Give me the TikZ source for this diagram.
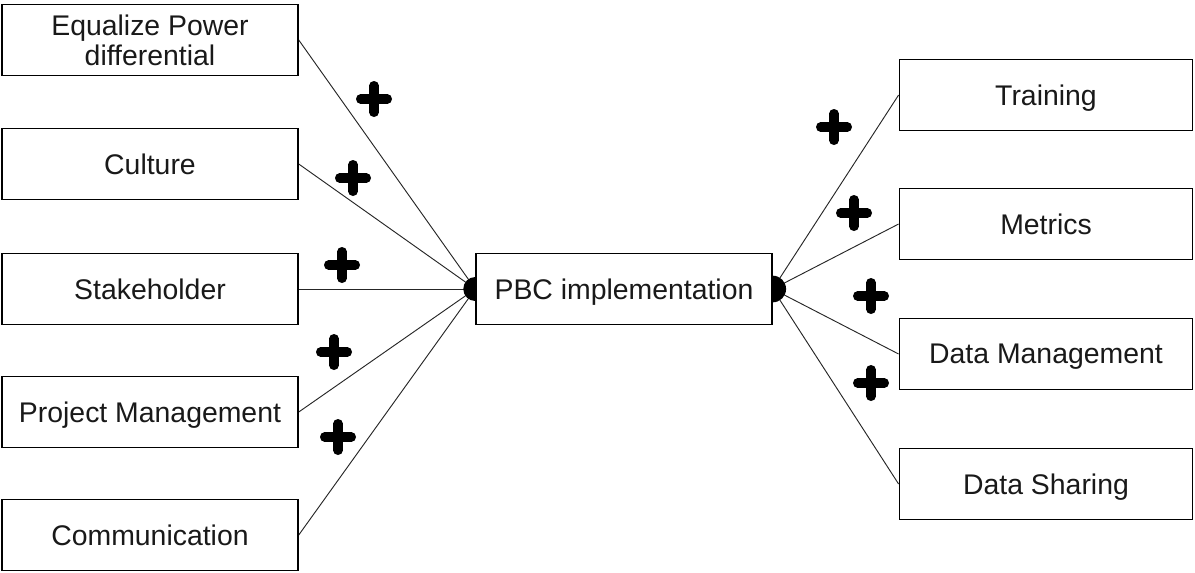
\documentclass[tikz,border=0pt]{standalone}
\usepackage{fontspec}
\setmainfont{Liberation Sans}
\usetikzlibrary{backgrounds}
\begin{document}
\begin{tikzpicture}[x=0.75pt,y=-0.75pt,
  box/.style={draw=black, line width=1.1pt, fill=white, minimum width=222pt, minimum height=53.5pt,
    inner sep=0pt, align=center, text depth=0pt, font=\fontsize{21.3}{22.5}\selectfont, text=black!90},
  conn/.style={draw=black!85, line width=0.7pt},
  plussign/.style={minimum size=28pt, inner sep=0pt,
    path picture={\draw[line width=7pt, line cap=round, black]
      ([yshift=10pt]path picture bounding box.center) -- ([yshift=-10pt]path picture bounding box.center)
      ([xshift=-10pt]path picture bounding box.center) -- ([xshift=10pt]path picture bounding box.center);}}]
\useasboundingbox (0,0) rectangle (1195,572);
% left boxes
\node[box] (eq) at (150,40) {Equalize Power\\differential};
\node[box] (cu) at (150,164) {Culture};
\node[box] (st) at (150,289) {Stakeholder};
\node[box] (pm) at (150,412) {Project Management};
\node[box] (co) at (150,535) {Communication};
% center
\node[box] (pbc) at (624,289) {PBC implementation};
% right boxes
\node[box, minimum width=220pt] (tr) at (1046,95) {Training};
\node[box, minimum width=220pt] (me) at (1046,224) {Metrics};
\node[box, minimum width=220pt] (dm) at (1046,354) {Data Management};
\node[box, minimum width=220pt] (ds) at (1046,484) {Data Sharing};
\begin{scope}[on background layer]
  \foreach \n in {eq,cu,st,pm,co}{\draw[conn] (\n.east) -- (pbc.west);}
  \foreach \n in {tr,me,dm,ds}{\draw[conn] (\n.west) -- (pbc.east);}
  \fill[black] (pbc.west) circle (9pt);
  \fill[black] (pbc.east) circle (10pt);
\end{scope}
% plus signs
\node[plussign] (p1) at (374,99) {};
\node[plussign] (p2) at (353,178) {};
\node[plussign] (p3) at (342,265) {};
\node[plussign] (p4) at (334,352) {};
\node[plussign] (p5) at (338,437) {};
\node[plussign] (p6) at (834,127) {};
\node[plussign] (p7) at (854,213) {};
\node[plussign] (p8) at (871,296) {};
\node[plussign] (p9) at (871,383) {};
\end{tikzpicture}
\end{document}
